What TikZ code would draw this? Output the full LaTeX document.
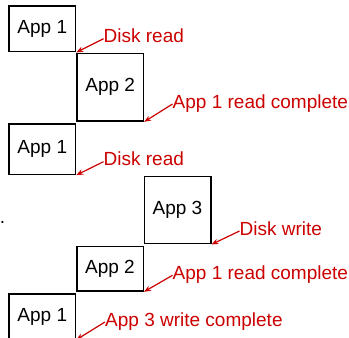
\documentclass[tikz,border=0pt]{standalone}
\usepackage{fontspec}
\setmainfont{Liberation Sans}
\usetikzlibrary{arrows.meta}
\definecolor{lblred}{RGB}{204,0,0}
\begin{document}
\begin{tikzpicture}[x=1pt,y=-1pt,
  every node/.style={font=\fontsize{19}{22}\selectfont},
  appbox/.style={draw=black, line width=1.5pt, inner sep=0pt, minimum width=66.5pt},
  lbl/.style={text=lblred, inner sep=0pt, anchor=base west, text height=13pt, text depth=5pt},
  pointer/.style={draw=lblred, line width=1.2pt, -{Stealth[length=7pt,width=5.5pt]}}
]
\clip (0,0) rectangle (349,338);
\fill[white] (0,0) rectangle (349,338);
% boxes
\node[appbox, minimum height=45.7pt] (a1) at (42.3,28.8) {App 1};
\node[appbox, minimum height=67.7pt] (a2) at (110.2,87.2) {App 2};
\node[appbox, minimum height=50.3pt] (a3) at (42.3,149.2) {App 1};
\node[appbox, minimum height=67pt] (a4) at (177.5,210.2) {App 3};
\node[appbox, minimum height=44.7pt] (a5) at (110,268.7) {App 2};
\node[appbox, minimum height=45pt] (a6) at (42.3,316.5) {App 1};
\node[inner sep=0pt, anchor=base] (dot) at (2.4,223) {.};
% labels
\node[lbl] (l1) at (103.5,42.7) {Disk read};
\node[lbl] (l2) at (172.5,108) {App 1 read complete};
\node[lbl] (l3) at (103.5,165.7) {Disk read};
\node[lbl] (l4) at (239.5,235) {Disk write};
\node[lbl] (l5) at (172.5,279.3) {App 1 read complete};
\node[lbl] (l6) at (105,326) {App 3 write complete};
% arrows
\draw[pointer] (l1.west) -- (a1.south east);
\draw[pointer] (l2.west) -- (a2.south east);
\draw[pointer] (l3.west) -- (a3.south east);
\draw[pointer] (l4.west) -- (a4.south east);
\draw[pointer] (l5.west) -- (a5.south east);
\draw[pointer] (l6.west) -- (a6.south east);
\end{tikzpicture}
\end{document}
